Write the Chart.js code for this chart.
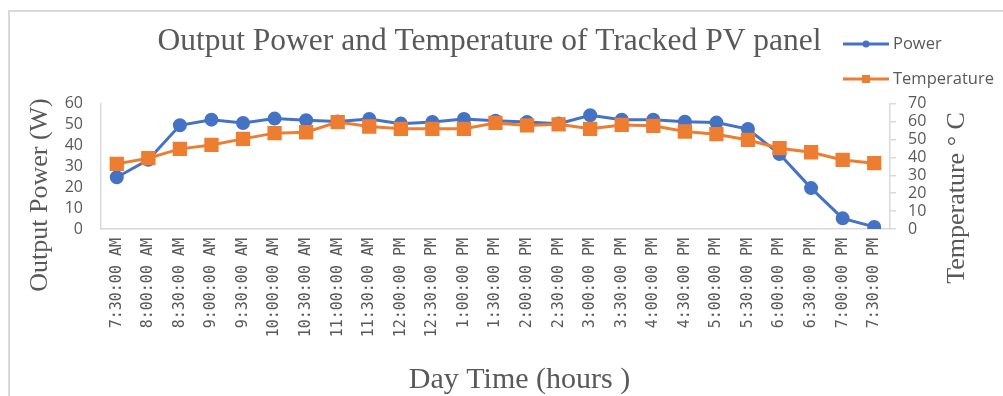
<!DOCTYPE html>
<html>
<head>
<meta charset="utf-8">
<title>Tracked PV panel</title>
<script src="https://cdn.jsdelivr.net/npm/chart.js@4.4.0/dist/chart.umd.min.js"></script>
<style>
  html, body { margin: 0; padding: 0; background: #fff; }
  #wrap { position: relative; width: 1003px; height: 396px; }
</style>
</head>
<body>
<div id="wrap"><canvas id="canvas" width="1003" height="396"></canvas></div>
<script>
// half-hourly readings, 7:30 AM to 7:30 PM
const timeLabels = [
  '7:30:00 AM', '8:00:00 AM', '8:30:00 AM', '9:00:00 AM', '9:30:00 AM',
  '10:00:00 AM', '10:30:00 AM', '11:00:00 AM', '11:30:00 AM', '12:00:00 PM',
  '12:30:00 PM', '1:00:00 PM', '1:30:00 PM', '2:00:00 PM', '2:30:00 PM',
  '3:00:00 PM', '3:30:00 PM', '4:00:00 PM', '4:30:00 PM', '5:00:00 PM',
  '5:30:00 PM', '6:00:00 PM', '6:30:00 PM', '7:00:00 PM', '7:30:00 PM'
];
const powerW = [24.8, 33.2, 49.7, 52.4, 50.8, 52.9, 52.1, 51.5, 52.7, 50.5,
  51.3, 52.7, 51.9, 51.3, 50.5, 54.5, 52.4, 52.4, 51.4, 51.0,
  47.9, 35.9, 19.6, 5.1, 1.0];
const temperatureC = [36.4, 39.6, 44.8, 47.0, 50.4, 53.6, 54.1, 59.8, 57.3, 56.0,
  56.0, 56.0, 59.3, 57.9, 58.5, 56.0, 58.2, 57.7, 54.5, 53.0,
  49.8, 45.2, 42.9, 38.6, 36.8];
const powerRange = [0, 60];
const tempRange = [0, 70];

const textGrey = '#595959';
const lineGrey = '#d9d9d9';
const blue = '#4472c4';
const orange = '#ed7d31';

// outer frame, axis titles and the two-row legend on the right
const decorations = {
  id: 'decorations',
  beforeDraw(chart) {
    const ctx = chart.ctx;
    ctx.save();
    ctx.strokeStyle = lineGrey;
    ctx.lineWidth = 2;
    ctx.beginPath();
    ctx.moveTo(9, chart.height);
    ctx.lineTo(9, 11);
    ctx.lineTo(chart.width, 11);
    ctx.stroke();
    ctx.restore();
  },
  afterDraw(chart) {
    const ctx = chart.ctx;
    const area = chart.chartArea;
    ctx.save();
    ctx.fillStyle = textGrey;
    ctx.textAlign = 'center';
    ctx.textBaseline = 'middle';

    ctx.font = '26px "Liberation Serif"';
    ctx.save();
    ctx.translate(40, 195);
    ctx.rotate(-Math.PI / 2);
    ctx.fillText('Output Power (W)', 0, 0);
    ctx.restore();

    ctx.save();
    ctx.translate(957, 198);
    ctx.rotate(-Math.PI / 2);
    ctx.fillText('Temperature \u00b0 C', 0, 0);
    ctx.restore();

    ctx.font = '30px "Liberation Serif"';
    ctx.fillText('Day Time (hours )', (area.left + area.right) / 2 + 24, 380);

    // legend
    const rows = [44, 79];
    ctx.font = '16.5px "Open Sans"';
    ctx.textAlign = 'left';
    chart.data.datasets.forEach((ds, i) => {
      const y = rows[i];
      ctx.strokeStyle = ds.borderColor;
      ctx.fillStyle = ds.borderColor;
      ctx.lineWidth = 3;
      ctx.beginPath();
      ctx.moveTo(843, y);
      ctx.lineTo(889, y);
      ctx.stroke();
      if (ds.pointStyle === 'rect') {
        ctx.fillRect(862, y - 4, 8, 8);
      } else {
        ctx.beginPath();
        ctx.arc(866, y, 3.5, 0, Math.PI * 2);
        ctx.fill();
      }
      ctx.fillStyle = textGrey;
      ctx.fillText(ds.label, 893, y);
    });
    ctx.restore();
  }
};

new Chart(document.getElementById('canvas'), {
  type: 'line',
  data: {
    labels: timeLabels,
    datasets: [
      {
        label: 'Power',
        data: powerW,
        yAxisID: 'yPower',
        borderColor: blue,
        backgroundColor: blue,
        borderWidth: 3,
        pointStyle: 'circle',
        pointRadius: 5.5,
        pointHoverRadius: 5.5,
        order: 1
      },
      {
        label: 'Temperature',
        data: temperatureC,
        yAxisID: 'yTemp',
        borderColor: orange,
        backgroundColor: orange,
        borderWidth: 3,
        pointStyle: 'rect',
        pointRadius: 8,
        pointHoverRadius: 8,
        order: 0
      }
    ]
  },
  options: {
    responsive: false,
    animation: false,
    layout: { padding: { left: 0, right: 24, top: 0, bottom: 0 } },
    plugins: {
      legend: { display: false },
      tooltip: { enabled: false },
      title: {
        display: true,
        text: 'Output Power and Temperature of Tracked PV panel',
        color: textGrey,
        font: { family: 'Liberation Serif', size: 31.5, weight: 'normal' },
        padding: { top: 23, bottom: 43 }
      }
    },
    scales: {
      x: {
        offset: true,
        grid: { display: false, drawTicks: false },
        border: { display: true, color: lineGrey, width: 1.5 },
        ticks: {
          autoSkip: false,
          minRotation: 90,
          maxRotation: 90,
          padding: 9,
          color: textGrey,
          font: { family: 'DejaVu Sans Mono', size: 15 }
        },
        afterFit(scale) { scale.height = 167; }
      },
      yPower: {
        position: 'left',
        min: powerRange[0],
        max: powerRange[1],
        grid: { display: false, drawTicks: false },
        border: { display: true, color: lineGrey, width: 1.5 },
        ticks: {
          autoSkip: false,
          stepSize: 10,
          padding: 18,
          color: textGrey,
          font: { family: 'Open Sans', size: 16 }
        },
        afterFit(scale) { scale.width = 101; }
      },
      yTemp: {
        position: 'right',
        min: tempRange[0],
        max: tempRange[1],
        grid: { drawOnChartArea: false, drawTicks: true, tickLength: 6, color: lineGrey, lineWidth: 1.5 },
        border: { display: true, color: lineGrey, width: 1.5 },
        ticks: {
          autoSkip: false,
          stepSize: 10,
          padding: 12,
          color: textGrey,
          font: { family: 'Open Sans', size: 16 }
        },
        afterFit(scale) { scale.width = 89; }
      }
    }
  },
  plugins: [decorations]
});
</script>
</body>
</html>
